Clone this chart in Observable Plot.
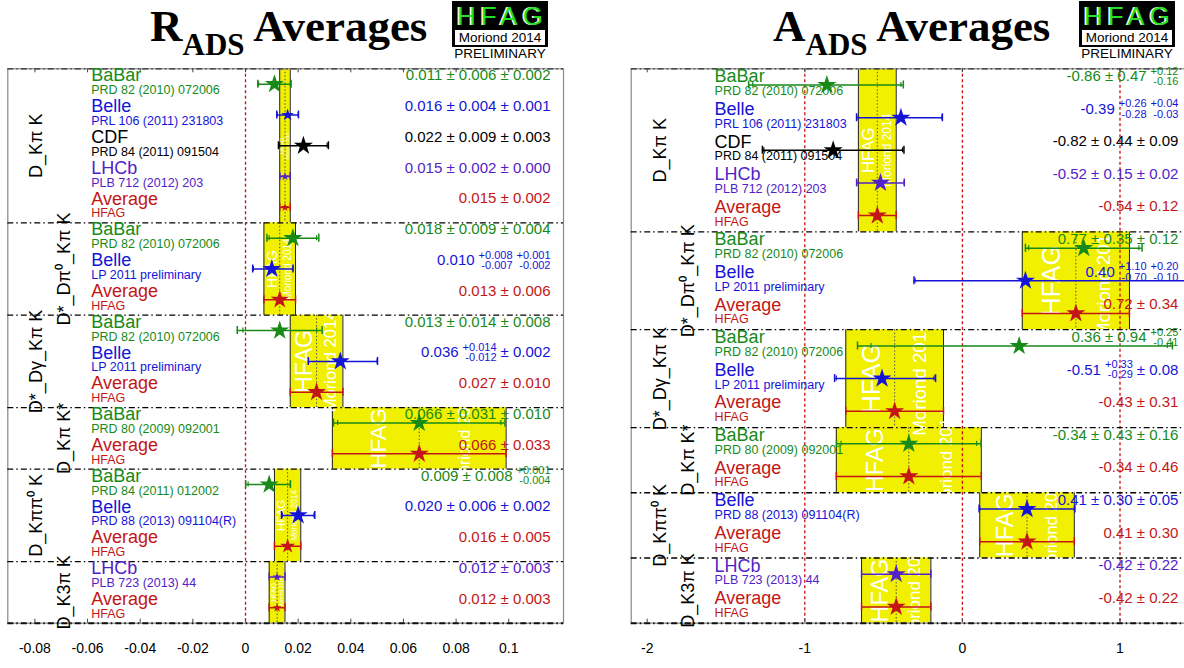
<!DOCTYPE html>
<html><head><meta charset="utf-8">
<script src="https://cdn.jsdelivr.net/npm/d3@7"></script>
<script src="https://cdn.jsdelivr.net/npm/@observablehq/plot@0.6"></script>
<style>
body{margin:0;background:#fff;}
#wrap{position:relative;width:1184px;height:668px;overflow:hidden;background:#fff;font-family:"Liberation Sans",Arial,sans-serif;}
.panel{position:absolute;top:0;}
.panel svg{max-width:none !important;}
.title{position:absolute;top:4px;font-family:"Liberation Serif","Times New Roman",serif;font-weight:bold;font-size:45px;line-height:1;white-space:nowrap;color:#000;}
.title .sub{font-size:31px;vertical-align:-14px;line-height:1;}
.logo{position:absolute;top:1px;width:96px;height:46px;background:#000;}
.logo .hf{position:absolute;left:0;top:0;width:100%;height:29px;text-align:center;color:#22e022;font-size:26px;letter-spacing:5px;padding-left:5px;box-sizing:border-box;line-height:30px;text-shadow:-1.5px 0 #fff;}
.logo .mo{position:absolute;left:3px;top:29px;width:90px;height:15px;background:#fff;text-align:center;font-size:13.5px;line-height:15px;color:#000;}
.prelim{position:absolute;top:47px;width:96px;text-align:center;font-size:13.5px;line-height:14px;color:#000;}
</style></head>
<body>
<div id="wrap">
  <div class="panel" id="left" style="left:0;width:590px"></div>
  <div class="panel" id="right" style="left:600px;width:600px"></div>
  <div class="title" style="left:150px">R<span class="sub">ADS</span> Averages</div>
  <div class="title" style="left:773px">A<span class="sub">ADS</span> Averages</div>
  <div class="logo" style="left:452px"><div class="hf">HFAG</div><div class="mo">Moriond 2014</div></div>
  <div class="prelim" style="left:452px">PRELIMINARY</div>
  <div class="logo" style="left:1079px"><div class="hf">HFAG</div><div class="mo">Moriond 2014</div></div>
  <div class="prelim" style="left:1079px">PRELIMINARY</div>
</div>
<script>
// ---------------- DATA ----------------
const sectionLabels = ["D_Kπ K", "D*_Dπ⁰_Kπ K", "D*_Dγ_Kπ K", "D_Kπ K*", "D_Kππ⁰ K", "D_K3π K"];

// R_ADS (left panel)
const leftRowSection = [0,0,0,0,0, 1,1,1, 2,2,2, 3,3, 4,4,4, 5,5];
const leftExpt = ["BaBar","Belle","CDF","LHCb","Average", "BaBar","Belle","Average", "BaBar","Belle","Average", "BaBar","Average", "BaBar","Belle","Average", "LHCb","Average"];
const leftRef = ["PRD 82 (2010) 072006","PRL 106 (2011) 231803","PRD 84 (2011) 091504","PLB 712 (2012) 203","HFAG",
  "PRD 82 (2010) 072006","LP 2011 preliminary","HFAG",
  "PRD 82 (2010) 072006","LP 2011 preliminary","HFAG",
  "PRD 80 (2009) 092001","HFAG",
  "PRD 84 (2011) 012002","PRD 88 (2013) 091104(R)","HFAG",
  "PLB 723 (2013) 44","HFAG"];
const leftValue     = [0.011,0.016,0.022,0.015,0.015, 0.018,0.010,0.013, 0.013,0.036,0.027, 0.066,0.066, 0.009,0.020,0.016, 0.012,0.012];
const leftStatPlus  = [0.006,0.004,0.009,0.002,0.002, 0.009,0.008,0.006, 0.014,0.014,0.010, 0.031,0.033, 0.008,0.006,0.005, 0.003,0.003];
const leftStatMinus = [0.006,0.004,0.009,0.002,0.002, 0.009,0.007,0.006, 0.014,0.012,0.010, 0.031,0.033, 0.008,0.006,0.005, 0.003,0.003];
const leftSystPlus  = [0.002,0.001,0.003,0.000,null, 0.004,0.001,null, 0.008,0.002,null, 0.010,null, 0.001,0.002,null, null,null];
const leftSystMinus = [0.002,0.001,0.003,0.000,null, 0.004,0.002,null, 0.008,0.002,null, 0.010,null, 0.004,0.002,null, null,null];
const leftTicks = [-0.08,-0.06,-0.04,-0.02,0,0.02,0.04,0.06,0.08,0.1];
const leftTickLabels = ["-0.08","-0.06","-0.04","-0.02","0","0.02","0.04","0.06","0.08","0.1"];
const leftRefLines = [0];

// A_ADS (right panel)
const rightRowSection = [0,0,0,0,0, 1,1,1, 2,2,2, 3,3, 4,4, 5,5];
const rightExpt = ["BaBar","Belle","CDF","LHCb","Average", "BaBar","Belle","Average", "BaBar","Belle","Average", "BaBar","Average", "Belle","Average", "LHCb","Average"];
const rightRef = ["PRD 82 (2010) 072006","PRL 106 (2011) 231803","PRD 84 (2011) 091504","PLB 712 (2012) 203","HFAG",
  "PRD 82 (2010) 072006","LP 2011 preliminary","HFAG",
  "PRD 82 (2010) 072006","LP 2011 preliminary","HFAG",
  "PRD 80 (2009) 092001","HFAG",
  "PRD 88 (2013) 091104(R)","HFAG",
  "PLB 723 (2013) 44","HFAG"];
const rightValue     = [-0.86,-0.39,-0.82,-0.52,-0.54, 0.77,0.40,0.72, 0.36,-0.51,-0.43, -0.34,-0.34, 0.41,0.41, -0.42,-0.42];
const rightStatPlus  = [0.47,0.26,0.44,0.15,0.12, 0.35,1.10,0.34, 0.94,0.33,0.31, 0.43,0.46, 0.30,0.30, 0.22,0.22];
const rightStatMinus = [0.47,0.28,0.44,0.15,0.12, 0.35,0.70,0.34, 0.94,0.29,0.31, 0.43,0.46, 0.30,0.30, 0.22,0.22];
const rightSystPlus  = [0.12,0.04,0.09,0.02,null, 0.12,0.20,null, 0.25,0.08,null, 0.16,null, 0.05,null, null,null];
const rightSystMinus = [0.16,0.03,0.09,0.02,null, 0.12,0.10,null, 0.41,0.08,null, 0.16,null, 0.05,null, null,null];
const rightTicks = [-2,-1,0,1];
const rightTickLabels = ["-2","-1","0","1"];
const rightRefLines = [-1,0,1];

// ---------------- STYLE ----------------
const colorOf = {BaBar: "#178a17", Belle: "#1414d8", CDF: "#000000", LHCb: "#5222c8", Average: "#c41616"};
const FONT = "Liberation Sans, Arial, sans-serif";
const ctx = document.createElement("canvas").getContext("2d");
function textWidth(t, size) {
  ctx.font = `${size}px "Liberation Sans", Arial, sans-serif`;
  return Math.max(...t.split("\n").map(l => ctx.measureText(l).width));
}

function buildPanel(cfg) {
  const {rowSection, expt, ref, value, statPlus, statMinus, systPlus, systMinus, decimals,
    domain, ticks, tickLabels, refLines, width, height, marginLeft, marginRight, marginTop, marginBottom, valueDx} = cfg;
  const n = expt.length;
  const frameW = width - marginLeft - marginRight;
  const frameH = height - marginTop - marginBottom;
  const pxPerUnit = frameW / (domain[1] - domain[0]);
  const rowPx = frameH / n;
  const quad = (a, b) => b == null ? a : Math.hypot(a, b);
  const fmt = x => x.toFixed(decimals);

  const rows = expt.map((e, i) => {
    const r = {i, c: i + 0.5, sec: rowSection[i], expt: e, ref: ref[i], v: value[i],
      sp: statPlus[i], sm: statMinus[i], yp: systPlus[i], ym: systMinus[i], color: colorOf[e]};
    r.tp = quad(r.sp, r.yp); r.tm = quad(r.sm, r.ym);
    const R = Math.min(10, Math.max(4.5, 0.6 * Math.min(r.tp, r.tm) * pxPerUnit));
    r.r = R / 1.673;
    const segs = [{k: "n", t: fmt(r.v)}];
    const add = (p, m) => {
      if (p == null) return;
      if (p === m) {
        const last = segs[segs.length - 1];
        if (last.k === "n") last.t += " ± " + fmt(p); else segs.push({k: "n", t: "± " + fmt(p)});
      } else segs.push({k: "s", t: "+" + fmt(p) + "\n-" + fmt(m)});
    };
    add(r.sp, r.sm); add(r.yp, r.ym);
    let off = 0;
    for (let k = segs.length - 1; k >= 0; k--) {
      segs[k].off = off;
      off += textWidth(segs[k].t, segs[k].k === "n" ? 15 : 11) + 4;
    }
    r.segs = segs;
    return r;
  });

  const secs = sectionLabels.map((label, s) => {
    const rs = rows.filter(r => r.sec === s);
    const avg = rs.find(r => r.expt === "Average");
    const start = rs[0].i, end = rs[rs.length - 1].i + 1;
    const x1 = avg.v - avg.tm, x2 = avg.v + avg.tp;
    const w = (x2 - x1) * pxPerUnit, h = (end - start) * rowPx;
    const hf = Math.max(6, Math.min(0.44 * w, 0.36 * h, 26));
    return {s, label, start, end, mid: (start + end) / 2, avg: avg.v, x1, x2, w: x2 - x1, hf, mo: hf * 0.72};
  });
  const bounds = secs.slice(1).map(d => d.start);
  const capH = 4 / rowPx, statH = 2.5 / rowPx, tickL = 4 / rowPx;
  const withSyst = rows.filter(r => r.yp != null);

  const marks = [
    Plot.rect(secs, {x1: "x1", x2: "x2", y1: "start", y2: "end", fill: "#f0f000"}),
    Plot.ruleX(secs, {x: "x1", y1: "start", y2: "end", stroke: "#222", strokeWidth: 1}),
    Plot.ruleX(secs, {x: "x2", y1: "start", y2: "end", stroke: "#222", strokeWidth: 1}),
    Plot.ruleX(secs, {x: "avg", y1: "start", y2: "end", stroke: "#555", strokeWidth: 1, strokeDasharray: "1.5,2"}),
    Plot.text(secs, {x: d => d.x1 + 0.27 * d.w, y: "mid", text: () => "HFAG", rotate: -90, fill: "white", fontSize: d => d.hf, lineAnchor: "middle", textAnchor: "middle"}),
    Plot.text(secs, {x: d => d.x1 + 0.76 * d.w, y: "mid", text: () => "Moriond 2014", rotate: -90, fill: "white", fontSize: d => d.mo, lineAnchor: "middle", textAnchor: "middle"}),
    Plot.ruleX(refLines, {stroke: "#c81010", strokeWidth: 1.3, strokeDasharray: "3,2.5"}),
    Plot.frame({stroke: "#888", strokeWidth: 1.2}),
    Plot.ruleY(bounds, {stroke: "#000", strokeWidth: 1.3, strokeDasharray: "6,3,1.5,3"}),
    Plot.ruleY([0], {stroke: "#333", strokeWidth: 1.3, strokeDasharray: "6,3,1.5,3"}),
    Plot.ruleY([n], {stroke: "#111", strokeWidth: 2, strokeDasharray: "6,3,1.5,3"}),
    Plot.ruleX(ticks, {y1: n - tickL, y2: n, stroke: "#444", strokeWidth: 1}),
    Plot.ruleX(ticks, {y1: 0, y2: tickL, stroke: "#444", strokeWidth: 1}),
    Plot.ruleY(rows, {y: "c", x1: d => d.v - d.tm, x2: d => d.v + d.tp, stroke: "color", strokeWidth: 1.5, clip: true}),
    Plot.ruleX(rows, {x: d => d.v - d.tm, y1: d => d.c - capH, y2: d => d.c + capH, stroke: "color", strokeWidth: 1.5, clip: true}),
    Plot.ruleX(rows, {x: d => d.v + d.tp, y1: d => d.c - capH, y2: d => d.c + capH, stroke: "color", strokeWidth: 1.5, clip: true}),
    Plot.ruleX(withSyst, {x: d => d.v - d.sm, y1: d => d.c - statH, y2: d => d.c + statH, stroke: "color", strokeWidth: 1.2, clip: true}),
    Plot.ruleX(withSyst, {x: d => d.v + d.sp, y1: d => d.c - statH, y2: d => d.c + statH, stroke: "color", strokeWidth: 1.2, clip: true}),
    Plot.dot(rows, {x: "v", y: "c", r: "r", symbol: "star", fill: "color", stroke: "none"}),
    Plot.text(rows, {y: "c", text: "expt", frameAnchor: "left", dx: 83.4, dy: -8.5, textAnchor: "start", lineAnchor: "middle", fontSize: 18, fill: "color"}),
    Plot.text(rows, {y: "c", text: "ref", frameAnchor: "left", dx: 83.4, dy: 6, textAnchor: "start", lineAnchor: "middle", fontSize: 12.5, fill: "color"}),
    Plot.text(secs.filter(d => d.s % 2 === 0), {y: "mid", text: "label", frameAnchor: "left", dx: 28.7, rotate: -90, fontSize: 18, fill: "#000", lineAnchor: "middle", textAnchor: "middle"}),
    Plot.text(secs.filter(d => d.s % 2 === 1), {y: "mid", text: "label", frameAnchor: "left", dx: 56.7, rotate: -90, fontSize: 18, fill: "#000", lineAnchor: "middle", textAnchor: "middle"}),
    ...rows.flatMap(r => r.segs.map(seg => Plot.text([r], {
      y: "c", text: () => seg.t, frameAnchor: "right", dx: valueDx - seg.off, dy: -8.5,
      textAnchor: "end", lineAnchor: "middle", lineHeight: 0.92,
      fontSize: seg.k === "n" ? 15 : 11, fill: r.color
    })))
  ];

  return Plot.plot({
    width, height, marginLeft, marginRight, marginTop, marginBottom,
    style: {fontFamily: FONT, fontSize: "14px", background: "transparent", overflow: "visible", color: "#000", maxWidth: "none"},
    x: {domain, ticks, tickFormat: d => tickLabels[ticks.indexOf(d)], tickSize: 0, tickPadding: 20, label: null},
    y: {domain: [0, n], reverse: true, axis: null},
    r: {type: "identity"},
    color: {type: "identity"},
    marks
  });
}

const leftPlot = buildPanel({
  rowSection: leftRowSection, expt: leftExpt, ref: leftRef, value: leftValue,
  statPlus: leftStatPlus, statMinus: leftStatMinus, systPlus: leftSystPlus, systMinus: leftSystMinus,
  decimals: 3, domain: [-0.0903, 0.1208], ticks: leftTicks, tickLabels: leftTickLabels, refLines: leftRefLines,
  width: 590, height: 668, marginLeft: 7.3, marginRight: 27, marginTop: 68.3, marginBottom: 45.3, valueDx: -13
});
document.getElementById("left").appendChild(leftPlot);

const rightPlot = buildPanel({
  rowSection: rightRowSection, expt: rightExpt, ref: rightRef, value: rightValue,
  statPlus: rightStatPlus, statMinus: rightStatMinus, systPlus: rightSystPlus, systMinus: rightSystMinus,
  decimals: 2, domain: [-2.1016, 1.4245], ticks: rightTicks, tickLabels: rightTickLabels, refLines: rightRefLines,
  width: 600, height: 668, marginLeft: 30.7, marginRight: 13.6, marginTop: 68.3, marginBottom: 45.3, valueDx: -8.5
});
document.getElementById("right").appendChild(rightPlot);
</script>
</body></html>
